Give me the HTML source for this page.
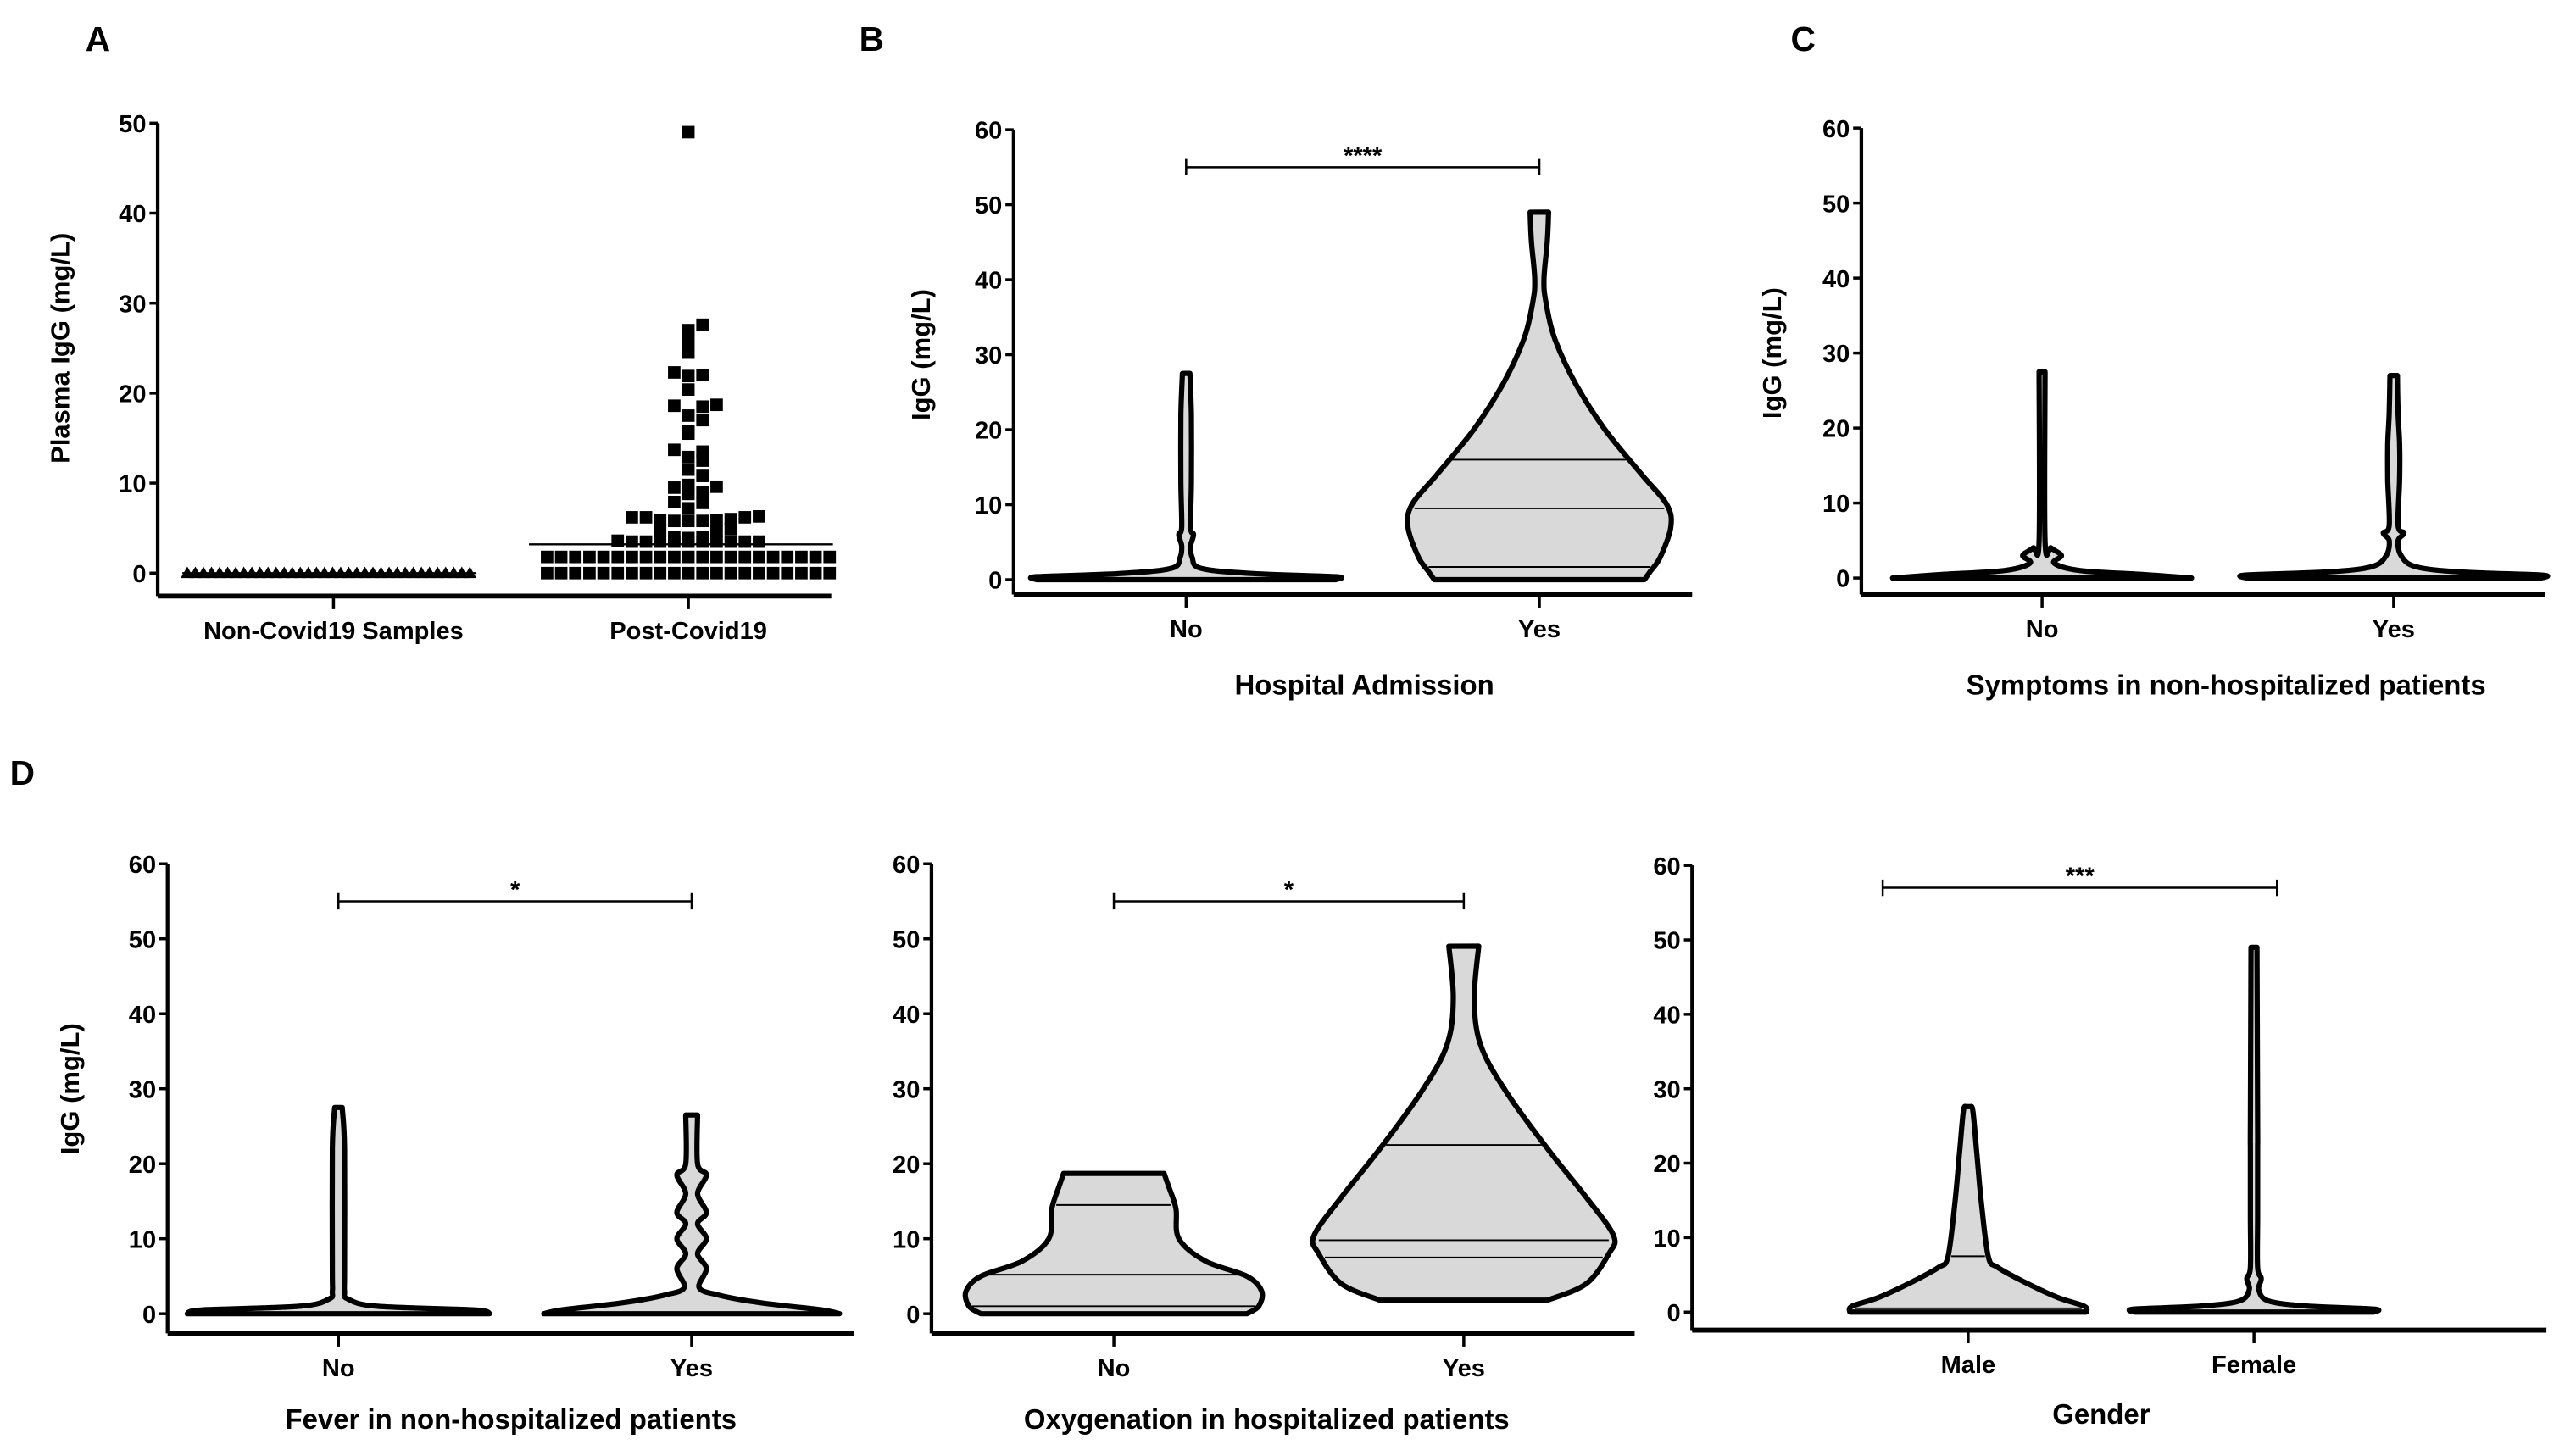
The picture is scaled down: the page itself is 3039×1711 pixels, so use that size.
<!DOCTYPE html>
<html><head><meta charset="utf-8"><style>
html,body{margin:0;padding:0;background:#fff;}
svg{display:block;font-family:"Liberation Sans",Arial,sans-serif;}
</style></head><body>
<svg id="fig" width="3039" height="1711" viewBox="0 0 1568 883" preserveAspectRatio="none" xmlns="http://www.w3.org/2000/svg">
<rect width="1568" height="883" fill="#fff"/>
<g id="root"></g>
</svg>
<script>
// ===== Data =====
const panelAValuesNonCovid = [0,0,0,0,0,0,0,0,0,0,0,0,0,0,0,0,0,0,0,0,0,0,0,0,0,0,0,0,0,0,0,0,0,0,0,0];
const panelAValuesPostCovid = [49,27.6,27,25.8,24.5,22.3,22,21.9,20.4,18.7,18.6,18.5,17.5,17,15.8,15.5,13.7,13.5,12.9,12.5,11.5,10.8,9.8,9.6,9.5,9,8.8,7.9,7.8,7.2,6.3,6.2,6.2,5.9,5.8,5.8,5.8,5.9,6.2,6.0,4.9,4.8,4.7,4.0,4.0,3.9,3.6,3.5,3.5,3.5,3.5,3.5,3.5,3.5,3.5,3.5,3.5,
1.8,1.8,1.8,1.8,1.8,1.8,1.8,1.8,1.8,1.8,1.8,1.8,1.8,1.8,1.8,1.8,1.8,1.8,1.8,1.8,1.8,
0,0,0,0,0,0,0,0,0,0,0,0,0,0,0,0,0,0,0,0,0];
const panelAMean = 3.2;
const panelATicks = [0,10,20,30,40,50];
const violinTicks = [0,10,20,30,40,50,60];

// violin profiles: [value, relative half-width 0..1]
const bNo  = [[0,1],[0.4,1],[0.8,0.45],[1.5,0.1],[3,0.04],[4.5,0.03],[6,0.05],[7,0.03],[13,0.035],[22,0.035],[27.5,0.025]];
const bYes = [[0,0.8],[1,0.84],[3,0.92],[7,1],[10,0.97],[14,0.78],[20,0.5],[26,0.28],[32,0.12],[37,0.05],[40,0.035],[45,0.06],[49,0.07]];
const cNo  = [[0,1],[0.5,0.65],[1,0.25],[2,0.08],[3,0.13],[4,0.06],[5,0.02],[27.5,0.02]];
const cYes = [[0,1],[0.4,1],[0.8,0.45],[1.5,0.15],[3,0.05],[5,0.03],[6,0.07],[7,0.03],[13,0.04],[18,0.04],[22,0.03],[27,0.025]];
const d1No = [[0,1],[0.5,0.9],[1,0.25],[2,0.06],[3,0.04],[6,0.04],[22,0.04],[27.5,0.025]];
const d1Yes= [[0,1],[0.5,0.88],[1.5,0.45],[2.5,0.18],[3.5,0.05],[6,0.1],[8,0.04],[10,0.1],[12,0.04],[13.5,0.1],[16,0.04],[18.5,0.1],[20,0.04],[26.5,0.04]];
const d2No = [[0,0.9],[1,0.98],[3,1],[5,0.9],[7,0.62],[10,0.44],[14,0.42],[17,0.37],[18.7,0.34]];
const d2Yes= [[1.8,0.56],[4,0.82],[8,0.97],[10.5,1],[16,0.8],[22,0.56],[30,0.27],[36,0.11],[42,0.07],[49,0.1]];
const d3Male=[[0,1],[0.8,0.98],[2,0.75],[4,0.48],[6,0.25],[7.5,0.17],[15,0.11],[22,0.07],[27,0.04],[27.6,0.02]];
const d3Fem= [[0,1],[0.4,1],[0.8,0.45],[1.5,0.12],[3,0.04],[4.5,0.06],[6,0.03],[13,0.03],[22,0.03],[25,0.03],[49,0.025]];

const quartB = [[],[1.7,9.5,16]];
const quartC = [[],[]];
const quartD1 = [[],[]];
const quartD2 = [[1,5.2,14.5],[7.5,9.8,22.5]];
const quartD3 = [[7.5,0.5],[]];

// ===== Helpers =====
const NS="http://www.w3.org/2000/svg";
const root=document.getElementById('root');
function mk(tag,attrs,parent,text){const e=document.createElementNS(NS,tag);for(const k in attrs)e.setAttribute(k,attrs[k]);if(text!==undefined)e.textContent=text;(parent||root).appendChild(e);return e;}

function axes(p){
  const g=mk('g',{});
  
  
  const y=v=>p.y0-(v/p.ymax)*(p.y0-p.yTop);
  p.y=y;
  const ya=mk('line',{x1:p.ax,y1:p.yTop,x2:p.ax,y2:p.xAxisY,stroke:'#000','stroke-width':2.2},g);
  
  const xa=mk('line',{x1:p.ax,y1:p.xAxisY,x2:p.axEnd,y2:p.xAxisY,stroke:'#000','stroke-width':3},g);
  
  p.ticks.forEach(t=>{
    mk('line',{x1:p.ax-5,y1:y(t),x2:p.ax,y2:y(t),stroke:'#000','stroke-width':1.8},g);
    const tl=mk('text',{x:p.ax-7,y:y(t)+5.5,'text-anchor':'end','font-size':15,'font-weight':'bold'},g,String(t));
    
  });
  p.cats.forEach((c,i)=>{
    mk('line',{x1:p.cx[i],y1:p.xAxisY,x2:p.cx[i],y2:p.xAxisY+8,stroke:'#000','stroke-width':1.8},g);
    const tl=mk('text',{x:p.cx[i],y:p.xAxisY+26,'text-anchor':'middle','font-size':15,'font-weight':'bold'},g,c);
    
  });
  const yt=mk('text',{transform:`translate(${p.ytx},${(p.yTop+p.y0)/2}) rotate(-90)`,'text-anchor':'middle','font-size':16,'font-weight':'bold'},g,p.ytitle);
  
  if(p.xtitle){
    const xt=mk('text',{x:(p.ax+p.axEnd)/2+(p.xtOff||0),y:p.xtY,'text-anchor':'middle','font-size':17,'font-weight':'bold'},g,p.xtitle);
    
  }
  return g;
}

function smoothSide(pts){ // Catmull-Rom to bezier
  let d='';
  for(let i=0;i<pts.length-1;i++){
    const p0=pts[Math.max(i-1,0)],p1=pts[i],p2=pts[i+1],p3=pts[Math.min(i+2,pts.length-1)];
    const c1=[p1[0]+(p2[0]-p0[0])/6,p1[1]+(p2[1]-p0[1])/6];
    const c2=[p2[0]-(p3[0]-p1[0])/6,p2[1]-(p3[1]-p1[1])/6];
    d+=` C${c1[0].toFixed(1)},${c1[1].toFixed(1)} ${c2[0].toFixed(1)},${c2[1].toFixed(1)} ${p2[0].toFixed(1)},${p2[1].toFixed(1)}`;
  }
  return d;
}
function violin(g,p,cx,hw,prof,quarts,name){
  const right=prof.map(([v,w])=>[cx+w*hw,p.y(v)]);
  const left=prof.slice().reverse().map(([v,w])=>[cx-w*hw,p.y(v)]);
  let d=`M${cx-prof[0][1]*hw},${p.y(prof[0][0])} L${right[0][0]},${right[0][1]}`+smoothSide(right)+` L${left[0][0]},${left[0][1]}`+smoothSide(left)+' Z';
  const el=mk('path',{d:d,fill:'#d9d9d9',stroke:'#000','stroke-width':3.2,'stroke-linejoin':'round'},g);
  
  
  // quartile lines
  quarts.forEach(q=>{
    // width at q by interpolation
    let w=0;
    for(let i=0;i<prof.length-1;i++){if(q>=prof[i][0]&&q<=prof[i+1][0]){const t=(q-prof[i][0])/(prof[i+1][0]-prof[i][0]);w=prof[i][1]+t*(prof[i+1][1]-prof[i][1]);break;}}
    const ql=mk('line',{x1:cx-w*hw+2,y1:p.y(q),x2:cx+w*hw-2,y2:p.y(q),stroke:'#000','stroke-width':1},g);
    
    
  });
}
function sig(g,p,x1,x2,v,label){
  const y=p.y(v);
  const b=mk('path',{d:`M${x1},${y-5}V${y+5}M${x1},${y}H${x2}M${x2},${y-5}V${y+5}`,stroke:'#000','stroke-width':1.3,fill:'none'},g);
  
  const t=mk('text',{x:(x1+x2)/2,y:y-2,'text-anchor':'middle','font-size':15,'font-weight':'bold'},g,label);
  
}
function letter(x,y,s){const t=mk('text',{x:x,y:y,'font-size':21,'font-weight':'bold'},root,s);}

// ===== Panel A =====
letter(52,31,'A');letter(523,31,'B');letter(1090,31,'C');letter(6,478,'D');
const pA={name:'panel-a',ax:96,axEnd:506,yTop:75,y0:349,ymax:50,xAxisY:363,ticks:panelATicks,cats:['Non-Covid19 Samples','Post-Covid19'],cx:[203,419],ytitle:'Plasma IgG (mg/L)',ytx:42};
const gA=axes(pA);
// triangles
panelAValuesNonCovid.forEach((v,i)=>{
  const x=114+i*(286-114)/(panelAValuesNonCovid.length-1), y=pA.y(v);
  const t=mk('path',{d:`M${x-4},${y+3}L${x},${y-4}L${x+4},${y+3}Z`,fill:'#000'},gA);
  
});
mk('line',{x1:111,y1:pA.y(0),x2:290,y2:pA.y(0),stroke:'#000','stroke-width':1.2},gA);
// swarm squares
(function(){
  const bins={};
  const sorted=panelAValuesPostCovid.slice().sort((a,b)=>a-b);
  sorted.forEach(v=>{
    const b=Math.round(v/1.5);
    bins[b]=bins[b]||0;
    const k=bins[b]++;
    const off=(k===0?0:(k%2?1:-1)*Math.ceil(k/2))*8.6;
    const s=mk('rect',{x:419+off-3.8,y:pA.y(v)-3.8,width:7.6,height:7.6,fill:'#000'},gA);
    
    
  });
})();
const ml=mk('line',{x1:322,y1:pA.y(panelAMean),x2:507,y2:pA.y(panelAMean),stroke:'#000','stroke-width':1.2},gA);


// ===== Panel B =====
const pB={name:'panel-b',ax:617,axEnd:1030,yTop:79,y0:353,ymax:60,xAxisY:362,ticks:violinTicks,cats:['No','Yes'],cx:[722,937],ytitle:'IgG (mg/L)',ytx:566,xtitle:'Hospital Admission',xtY:423,xtOff:7};
const gB=axes(pB);
violin(gB,pB,722,91,bNo,quartB[0],'violin-no');
violin(gB,pB,937,80,bYes,quartB[1],'violin-yes');
sig(gB,pB,722,937,55,'****');

// ===== Panel C =====
const pC={name:'panel-c',ax:1133,axEnd:1549,yTop:78,y0:352,ymax:60,xAxisY:362,ticks:violinTicks,cats:['No','Yes'],cx:[1243,1457],ytitle:'IgG (mg/L)',ytx:1084,xtitle:'Symptoms in non-hospitalized patients',xtY:423,xtOff:14};
const gC=axes(pC);
violin(gC,pC,1243,91,cNo,quartC[0],'violin-no');
violin(gC,pC,1457,90,cYes,quartC[1],'violin-yes');

// ===== Panel D1 =====
const pD1={name:'panel-d-fever',ax:102,axEnd:520,yTop:526,y0:800,ymax:60,xAxisY:812,ticks:violinTicks,cats:['No','Yes'],cx:[206,421],ytitle:'IgG (mg/L)',ytx:48,xtitle:'Fever in non-hospitalized patients',xtY:870,xtOff:0};
const gD1=axes(pD1);
violin(gD1,pD1,206,92,d1No,quartD1[0],'violin-no');
violin(gD1,pD1,421,90,d1Yes,quartD1[1],'violin-yes');
sig(gD1,pD1,206,421,55,'*');

// ===== Panel D2 =====
const pD2={name:'panel-d-oxygenation',ax:567,axEnd:995,yTop:526,y0:800,ymax:60,xAxisY:812,ticks:violinTicks,cats:['No','Yes'],cx:[678,891],ytitle:'',ytx:520,xtitle:'Oxygenation in hospitalized patients',xtY:870,xtOff:-10};
const gD2=axes(pD2);
violin(gD2,pD2,678,90,d2No,quartD2[0],'violin-no');
violin(gD2,pD2,891,91,d2Yes,quartD2[1],'violin-yes');
sig(gD2,pD2,678,891,55,'*');

// ===== Panel D3 =====
const pD3={name:'panel-d-gender',ax:1030,axEnd:1550,yTop:527,y0:799,ymax:60,xAxisY:810,ticks:violinTicks,cats:['Male','Female'],cx:[1198,1372],ytitle:'',ytx:990,xtitle:'Gender',xtY:867,xtOff:-11};
const gD3=axes(pD3);
violin(gD3,pD3,1198,72,d3Male,quartD3[0],'violin-male');
violin(gD3,pD3,1372,73,d3Fem,quartD3[1],'violin-female');
sig(gD3,pD3,1146,1386,57,'***');
</script>
</body></html>
